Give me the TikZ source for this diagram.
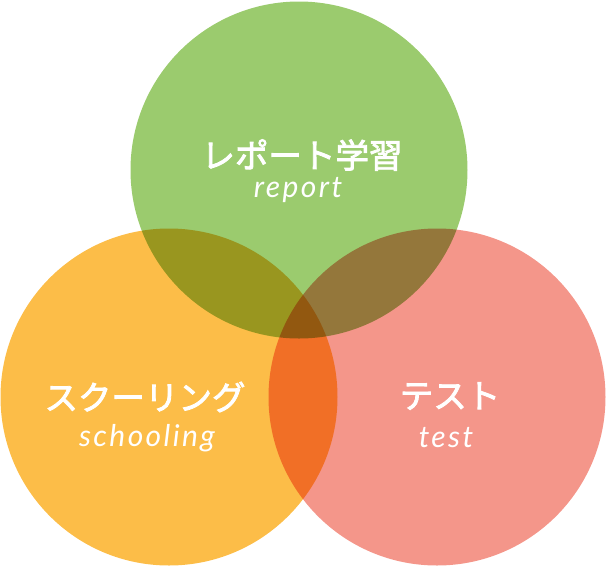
\documentclass[tikz,border=0pt]{standalone}
\usepackage{fontspec}
\newfontfamily\jpfont[FakeBold=2.5]{Noto Sans CJK JP}
\newfontfamily\enfont[LetterSpace=8]{Lato}
\definecolor{cgreen}{RGB}{155,203,110}
\definecolor{corange}{RGB}{252,189,72}
\definecolor{cpink}{RGB}{244,150,138}
\tikzset{
  setcircle/.style={circle, minimum size=337pt, inner sep=0pt, draw=none},
  jplabel/.style={text=white, font=\jpfont\fontsize{33.5}{38}\selectfont},
  enlabel/.style={text=white, font=\enfont\itshape\fontsize{30}{34}\selectfont}
}
\begin{document}
\begin{tikzpicture}[x=1pt,y=-1pt]
\useasboundingbox (0,0) rectangle (606,566);
\begin{scope}[blend group=multiply]
  \node[setcircle, fill=cgreen] (green) at (299,170) {};
  \node[setcircle, fill=corange] (orange) at (169,397) {};
  \node[setcircle, fill=cpink] (pink) at (437,397) {};
\end{scope}
\node[jplabel] (t1) at (302,155) {レポート学習};
\node[enlabel] (e1) at (298,190) {report};
\node[jplabel] (t2) at (145,397) {スクーリング};
\node[enlabel] (e2) at (147,438) {schooling};
\node[jplabel] (t3) at (450,396) {テスト};
\node[enlabel] (e3) at (446,438) {test};
\end{tikzpicture}
\end{document}
